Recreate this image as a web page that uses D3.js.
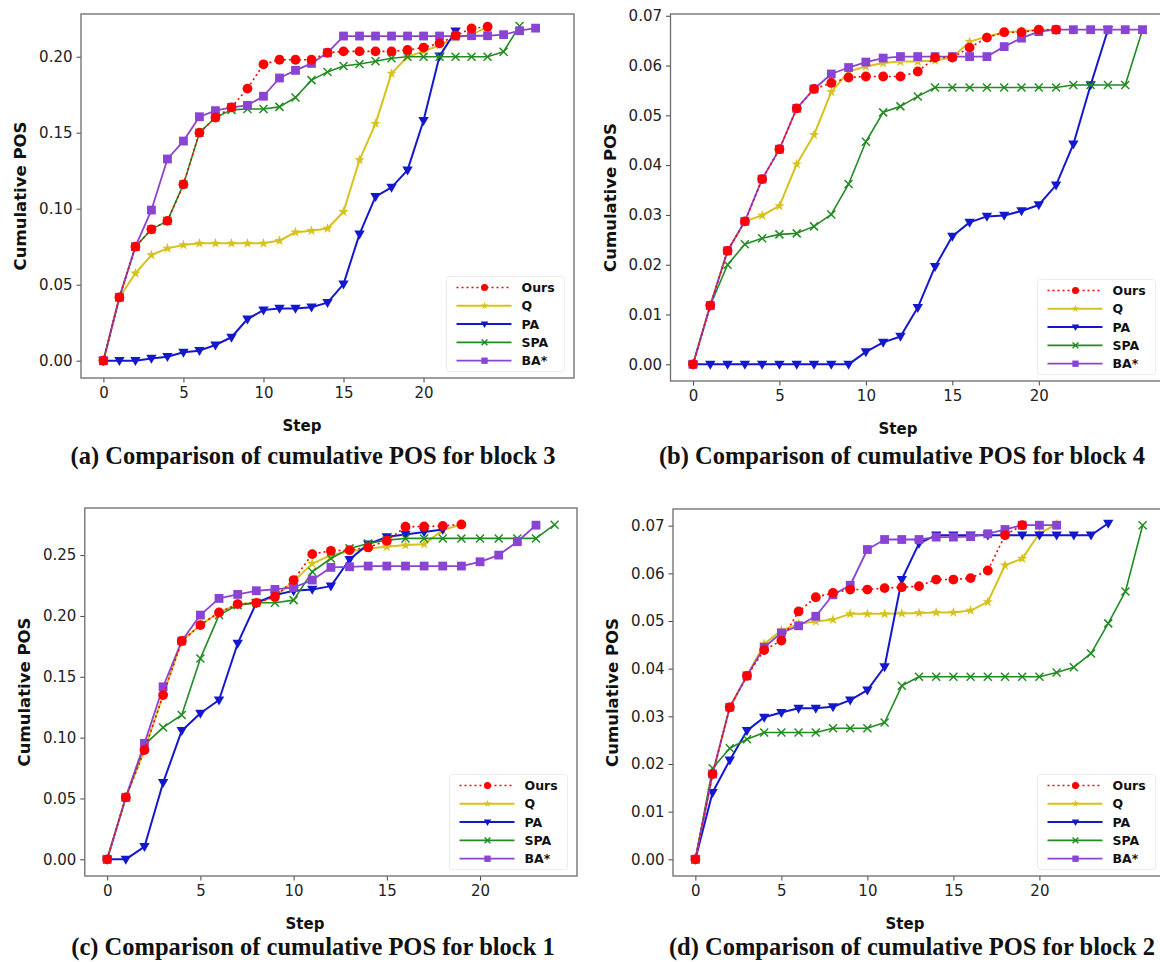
<!DOCTYPE html>
<html>
<head>
<meta charset="utf-8">
<script src="https://cdn.jsdelivr.net/npm/d3@7"></script>
<style>
  body { margin: 0; background: #fff; }
  svg { display: block; }
</style>
</head>
<body>
<svg id="fig" width="1160" height="962"></svg>
<script>
// ---- series names (legend order) ----
const seriesNames = ["Ours", "Q", "PA", "SPA", "BA*"];

// ---- tick values ----
const xTickValues = [0, 5, 10, 15, 20];
const yTicksBlock3 = [0, 0.05, 0.10, 0.15, 0.20];
const yTicksBlock1 = [0, 0.05, 0.10, 0.15, 0.20, 0.25];
const yTicksSmall = [0, 0.01, 0.02, 0.03, 0.04, 0.05, 0.06, 0.07];

// ---- block 3: cumulative POS per step ----
const b3Ours = [0, 0.0417, 0.075, 0.0864, 0.092, 0.116, 0.150, 0.160, 0.1667, 0.179, 0.195, 0.198, 0.198, 0.198, 0.2026, 0.2035, 0.2035, 0.2035, 0.2035, 0.2044, 0.206, 0.2088, 0.214, 0.2186, 0.2197];
const b3Q = [0, 0.0417, 0.0575, 0.0695, 0.0739, 0.0761, 0.0772, 0.0772, 0.0772, 0.0772, 0.0772, 0.079, 0.0845, 0.0855, 0.087, 0.098, 0.132, 0.156, 0.189, 0.200, 0.2035, 0.2075, 0.2125, 0.2145, 0.2195];
const b3PA = [0, 0, 0, 0.0015, 0.0026, 0.0055, 0.0066, 0.0103, 0.0154, 0.0274, 0.0333, 0.0344, 0.0344, 0.0352, 0.0382, 0.0504, 0.0833, 0.108, 0.114, 0.1254, 0.158, 0.2004, 0.2168];
const b3SPA = [0, 0.0417, 0.075, 0.0864, 0.092, 0.116, 0.150, 0.160, 0.165, 0.1656, 0.1656, 0.167, 0.1732, 0.1846, 0.190, 0.1939, 0.1952, 0.197, 0.199, 0.200, 0.200, 0.200, 0.200, 0.200, 0.200, 0.2033, 0.2202];
const b3BA = [0, 0.0417, 0.075, 0.0991, 0.1327, 0.1445, 0.1605, 0.1645, 0.1667, 0.168, 0.174, 0.186, 0.191, 0.1956, 0.2026, 0.2136, 0.2136, 0.2136, 0.2136, 0.2136, 0.2136, 0.2136, 0.2136, 0.2138, 0.2138, 0.2145, 0.2171, 0.2188];

// ---- block 4 ----
const b4Ours = [0, 0.0118, 0.0228, 0.0287, 0.0372, 0.0432, 0.0514, 0.0553, 0.0565, 0.0576, 0.0578, 0.0578, 0.0578, 0.0588, 0.0616, 0.0616, 0.0636, 0.0656, 0.0667, 0.0667, 0.0672, 0.0672];
const b4Q = [0, 0.0118, 0.0228, 0.0287, 0.0299, 0.0318, 0.0402, 0.0461, 0.0547, 0.0588, 0.0598, 0.0605, 0.0608, 0.0608, 0.061, 0.0616, 0.0648, 0.0658, 0.0667, 0.0669, 0.0672, 0.0672];
const b4PA = [0, 0, 0, 0, 0, 0, 0, 0, 0, 0, 0.0025, 0.0044, 0.0056, 0.0114, 0.0196, 0.0257, 0.0285, 0.0297, 0.0299, 0.0308, 0.032, 0.036, 0.0442, 0.0561, 0.0672];
const b4SPA = [0, 0.0118, 0.020, 0.0241, 0.0253, 0.0261, 0.0263, 0.0277, 0.0301, 0.0362, 0.0447, 0.0506, 0.0518, 0.0538, 0.0556, 0.0556, 0.0556, 0.0556, 0.0556, 0.0556, 0.0556, 0.0556, 0.0561, 0.0561, 0.0561, 0.0561, 0.0672];
const b4BA = [0, 0.0118, 0.0228, 0.0287, 0.0372, 0.0432, 0.0514, 0.0553, 0.0583, 0.0596, 0.0607, 0.0615, 0.0618, 0.0618, 0.0618, 0.0618, 0.0618, 0.0618, 0.0638, 0.0655, 0.0668, 0.0672, 0.0672, 0.0672, 0.0672, 0.0672, 0.0672];

// ---- block 1 ----
const b1Ours = [0, 0.0509, 0.0898, 0.135, 0.1794, 0.1925, 0.2029, 0.2097, 0.2108, 0.2158, 0.2295, 0.2508, 0.2535, 0.2541, 0.2563, 0.2618, 0.2733, 0.2735, 0.2740, 0.2752];
const b1Q = [0, 0.0509, 0.0898, 0.135, 0.1794, 0.1925, 0.2029, 0.2097, 0.2108, 0.2158, 0.2285, 0.243, 0.250, 0.253, 0.2555, 0.2568, 0.2582, 0.259, 0.2705, 0.2752];
const b1PA = [0, 0, 0.0104, 0.063, 0.1057, 0.12, 0.1309, 0.1774, 0.2108, 0.2171, 0.2207, 0.2218, 0.2245, 0.2464, 0.259, 0.265, 0.267, 0.269, 0.271];
const b1SPA = [0, 0.0509, 0.094, 0.1084, 0.1186, 0.1651, 0.2007, 0.2089, 0.2108, 0.2108, 0.213, 0.2363, 0.2472, 0.2555, 0.2596, 0.2623, 0.2637, 0.2637, 0.2637, 0.2637, 0.2637, 0.2637, 0.2637, 0.2637, 0.275];
const b1BA = [0, 0.0509, 0.0953, 0.1418, 0.1794, 0.2007, 0.2144, 0.2177, 0.2207, 0.2218, 0.2234, 0.2295, 0.2399, 0.2404, 0.241, 0.241, 0.241, 0.241, 0.241, 0.241, 0.2445, 0.25, 0.261, 0.2746];

// ---- block 2 ----
const b2Ours = [0, 0.0179, 0.0319, 0.0385, 0.0439, 0.0459, 0.052, 0.055, 0.0559, 0.0566, 0.0566, 0.0569, 0.0571, 0.0573, 0.0587, 0.0587, 0.059, 0.0606, 0.068, 0.0701];
const b2Q = [0, 0.0179, 0.0319, 0.0385, 0.0452, 0.048, 0.0494, 0.0499, 0.0503, 0.0515, 0.0515, 0.0515, 0.0516, 0.0517, 0.0518, 0.0518, 0.0522, 0.054, 0.0617, 0.0631, 0.0684, 0.0703];
const b2PA = [0, 0.014, 0.0208, 0.027, 0.0298, 0.0308, 0.0317, 0.0317, 0.032, 0.0334, 0.0355, 0.0404, 0.0587, 0.0663, 0.068, 0.068, 0.068, 0.068, 0.068, 0.068, 0.068, 0.068, 0.068, 0.068, 0.0705];
const b2SPA = [0, 0.0191, 0.0233, 0.0252, 0.0266, 0.0266, 0.0266, 0.0266, 0.0275, 0.0275, 0.0275, 0.0287, 0.0364, 0.0383, 0.0383, 0.0383, 0.0383, 0.0383, 0.0383, 0.0383, 0.0383, 0.0392, 0.0403, 0.0432, 0.0495, 0.0562, 0.0701];
const b2BA = [0, 0.0179, 0.0319, 0.0385, 0.0445, 0.0475, 0.049, 0.051, 0.0555, 0.0575, 0.065, 0.0671, 0.0671, 0.0671, 0.0676, 0.0676, 0.0677, 0.0683, 0.0692, 0.0701, 0.0701, 0.0701];

// ---- captions ----
const captions = [
  "(a) Comparison of cumulative POS for block 3",
  "(b) Comparison of cumulative POS for block 4",
  "(c) Comparison of cumulative POS for block 1",
  "(d) Comparison of cumulative POS for block 2"
];

// ---- series styling (same order as seriesNames) ----
const seriesStyle = [
  { color: "#ff0000", width: 1.6, dash: "2,3", marker: "circle" },
  { color: "#d6c21c", width: 2.0, dash: null, marker: "star" },
  { color: "#1418cc", width: 2.0, dash: null, marker: "tri" },
  { color: "#228b22", width: 1.6, dash: null, marker: "x" },
  { color: "#8a44d4", width: 1.8, dash: null, marker: "square" }
];
// paint order: baselines first, Ours last so its markers sit on top
const paintOrder = [1, 2, 3, 4, 0];

// ---- panel layout ----
const panels = [
  { frame: { left: 81, right: 574, top: 14, bottom: 378 }, xDomain: [-1.4, 29.4], yDomain: [-0.0114, 0.2281],
    yTicks: yTicksBlock3, series: [b3Ours, b3Q, b3PA, b3SPA, b3BA], caption: captions[0],
    stepX: 302, captionX: 313, captionY: 464 },
  { frame: { left: 670.5, right: 1165, top: 14, bottom: 381 }, xDomain: [-1.3, 27.3], yDomain: [-0.00335, 0.07035],
    yTicks: yTicksSmall, series: [b4Ours, b4Q, b4PA, b4SPA, b4BA], caption: captions[1],
    stepX: 898, captionX: 902, captionY: 464 },
  { frame: { left: 84.8, right: 577, top: 508, bottom: 876 }, xDomain: [-1.2, 25.2], yDomain: [-0.0137, 0.2887],
    yTicks: yTicksBlock1, series: [b1Ours, b1Q, b1PA, b1SPA, b1BA], caption: captions[2],
    stepX: 305, captionX: 313, captionY: 955 },
  { frame: { left: 673, right: 1165, top: 509, bottom: 876 }, xDomain: [-1.3, 27.3], yDomain: [-0.0035, 0.0735],
    yTicks: yTicksSmall, series: [b2Ours, b2Q, b2PA, b2SPA, b2BA], caption: captions[3],
    stepX: 905, captionX: 912, captionY: 955 }
];

const sansFont = "'DejaVu Sans', sans-serif";
const serifFont = "'Liberation Serif', 'Times New Roman', serif";

const svg = d3.select("#fig");

function drawMarker(g, kind, color, s) {
  if (kind === "circle") {
    g.append("circle").attr("r", 4.9 * s).attr("fill", color);
  } else if (kind === "square") {
    g.append("rect").attr("x", -4.4 * s).attr("y", -4.4 * s)
      .attr("width", 8.8 * s).attr("height", 8.8 * s).attr("fill", color);
  } else if (kind === "tri") {
    g.append("path")
      .attr("d", `M${-5.2 * s},${-3.6 * s}L${5.2 * s},${-3.6 * s}L0,${5.4 * s}Z`)
      .attr("fill", color);
  } else if (kind === "x") {
    const a = 4 * s;
    g.append("path").attr("d", `M${-a},${-a}L${a},${a}M${-a},${a}L${a},${-a}`)
      .attr("stroke", color).attr("stroke-width", 1.5).attr("fill", "none");
  } else if (kind === "star") {
    g.append("path").attr("d", d3.symbol(d3.symbolStar, 34 * s * s)()).attr("fill", color);
  }
}

panels.forEach(p => {
  const f = p.frame;
  const x = d3.scaleLinear().domain(p.xDomain).range([f.left, f.right]);
  const y = d3.scaleLinear().domain(p.yDomain).range([f.bottom, f.top]);
  const g = svg.append("g");

  // plot area
  g.append("rect").attr("x", f.left).attr("y", f.top)
    .attr("width", f.right - f.left).attr("height", f.bottom - f.top)
    .attr("fill", "#fff");

  // series lines and markers
  const line = d3.line().x((d, i) => x(i)).y(d => y(d));
  paintOrder.forEach(k => {
    const st = seriesStyle[k];
    const vals = p.series[k];
    g.append("path").datum(vals)
      .attr("d", line)
      .attr("fill", "none")
      .attr("stroke", st.color)
      .attr("stroke-width", st.width)
      .attr("stroke-dasharray", st.dash)
      .attr("stroke-linejoin", "round");
    vals.forEach((v, i) => {
      const mg = g.append("g").attr("transform", `translate(${x(i)},${y(v)})`);
      drawMarker(mg, st.marker, st.color, 1);
    });
  });

  // axes
  const xAxis = d3.axisBottom(x).tickValues(xTickValues).tickSize(4.5).tickPadding(5)
    .tickFormat(d3.format("d"));
  const yAxis = d3.axisLeft(y).tickValues(p.yTicks).tickSize(4.5).tickPadding(4)
    .tickFormat(d3.format(".2f"));
  const gx = g.append("g").attr("transform", `translate(0,${f.bottom})`).call(xAxis);
  const gy = g.append("g").attr("transform", `translate(${f.left},0)`).call(yAxis);
  [gx, gy].forEach(ax => {
    ax.select(".domain").remove();
    ax.selectAll(".tick line").attr("stroke", "#444").attr("stroke-width", 1);
    ax.selectAll(".tick text").attr("fill", "#222")
      .style("font-family", sansFont).style("font-size", "15px");
  });

  // frame
  g.append("rect").attr("x", f.left).attr("y", f.top)
    .attr("width", f.right - f.left).attr("height", f.bottom - f.top)
    .attr("fill", "none").attr("stroke", "#6b6b6b").attr("stroke-width", 1.3);

  // legend
  const legLeft = f.right - 117.5;
  const legTop = f.bottom - 90.5;
  const rowGap = 18.3;
  g.append("rect")
    .attr("x", legLeft - 10).attr("y", legTop - 11)
    .attr("width", 118).attr("height", rowGap * 4 + 22)
    .attr("rx", 3).attr("fill", "#fff").attr("fill-opacity", 0.85)
    .attr("stroke", "#ececec").attr("stroke-width", 1);
  seriesNames.forEach((name, k) => {
    const st = seriesStyle[k];
    const yy = legTop + k * rowGap;
    g.append("line").attr("x1", legLeft).attr("x2", legLeft + 55)
      .attr("y1", yy).attr("y2", yy)
      .attr("stroke", st.color).attr("stroke-width", st.width)
      .attr("stroke-dasharray", st.dash);
    const mg = g.append("g").attr("transform", `translate(${legLeft + 28},${yy})`);
    drawMarker(mg, st.marker, st.color, 0.72);
    g.append("text").attr("x", legLeft + 65).attr("y", yy + 4.5)
      .text(name)
      .style("font-family", sansFont).style("font-size", "12.5px")
      .style("font-weight", "bold").attr("fill", "#111");
  });

  // axis titles
  g.append("text").attr("x", p.stepX).attr("y", f.bottom + 53)
    .attr("text-anchor", "middle").text("Step")
    .style("font-family", sansFont).style("font-size", "15px")
    .style("font-weight", "bold").attr("fill", "#111");
  const cy = (f.top + f.bottom) / 2;
  g.append("text")
    .attr("transform", `translate(${f.left - 55},${cy}) rotate(-90)`)
    .attr("text-anchor", "middle").text("Cumulative POS")
    .style("font-family", sansFont).style("font-size", "16.5px")
    .style("font-weight", "bold").attr("fill", "#111");

  // caption
  g.append("text").attr("x", p.captionX).attr("y", p.captionY)
    .attr("text-anchor", "middle").text(p.caption)
    .style("font-family", serifFont).style("font-size", "24.5px")
    .style("font-weight", "bold").attr("fill", "#111");
});
</script>
</body>
</html>
